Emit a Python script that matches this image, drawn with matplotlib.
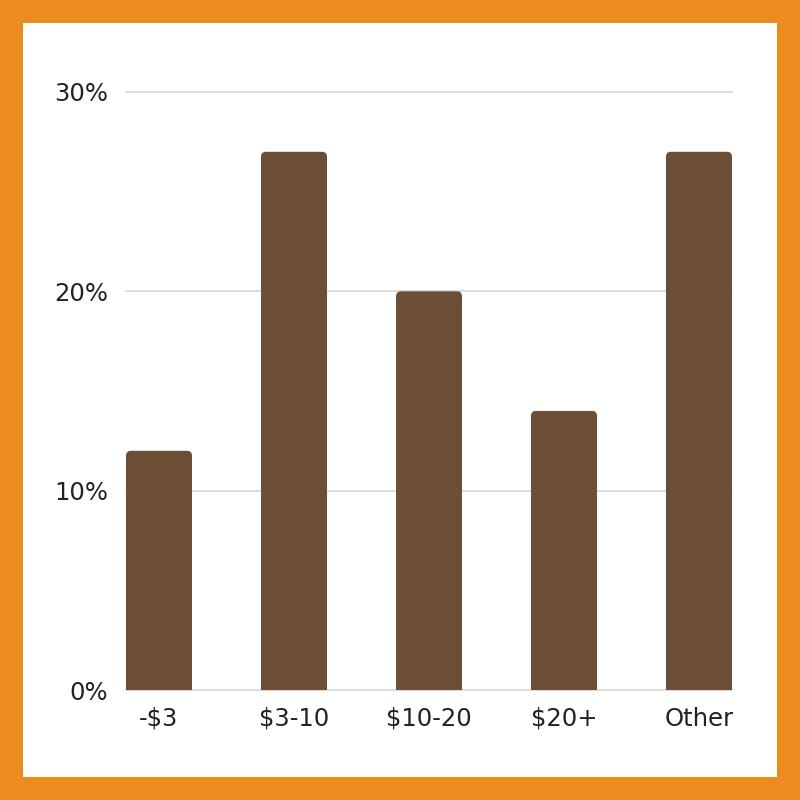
import matplotlib
matplotlib.use("Agg")
import matplotlib.pyplot as plt
from matplotlib.patches import FancyBboxPatch, Rectangle

categories = ["-$3", "$3-10", "$10-20", "$20+", "Other"]
values = [12, 27, 20, 14, 27]
yticks = [0, 10, 20, 30]
ytick_labels = ["0%", "10%", "20%", "30%"]

bar_color = "#6D4E37"
orange = "#EC8C1E"

fig = plt.figure(figsize=(8, 8), dpi=100)
fig.patch.set_facecolor(orange)
fig.add_artist(Rectangle((23/800, 23/800), 754/800, 754/800, transform=fig.transFigure,
                         facecolor="white", edgecolor="none", zorder=0))

ax = fig.add_axes([126/800, 1-690/800, 606/800, (690-88)/800])
ax.set_facecolor("none")
w = 66/135
xlim = (-w/2, len(categories)-1 + w/2)
ax.set_xlim(*xlim)
ax.set_ylim(0, 30.2)

px_per_x = 135.0
px_per_y = (690-92)/30.0
r_px = 5.0
for i, v in enumerate(values):
    p = FancyBboxPatch((i - w/2, -2), w, v + 2,
                       boxstyle=f"round,pad=0,rounding_size={r_px/px_per_x}",
                       mutation_aspect=px_per_x/px_per_y,
                       facecolor=bar_color, edgecolor="none", zorder=3)
    ax.add_patch(p)
    p.set_clip_on(True)

ax.set_yticks(yticks)
ax.set_yticklabels(ytick_labels)
ax.set_xticks(range(len(categories)))
ax.set_xticklabels(categories)
for y in yticks:
    ax.axhline(y, color="#d9d9d9", lw=1.3, zorder=1, clip_on=False)

for s in ax.spines.values():
    s.set_visible(False)
ax.tick_params(axis="both", length=0, labelsize=17.5, labelcolor="#222222")
ax.tick_params(axis="y", pad=13)
ax.tick_params(axis="x", pad=12)

fig.savefig("out.png", dpi=100, facecolor=fig.get_facecolor())
